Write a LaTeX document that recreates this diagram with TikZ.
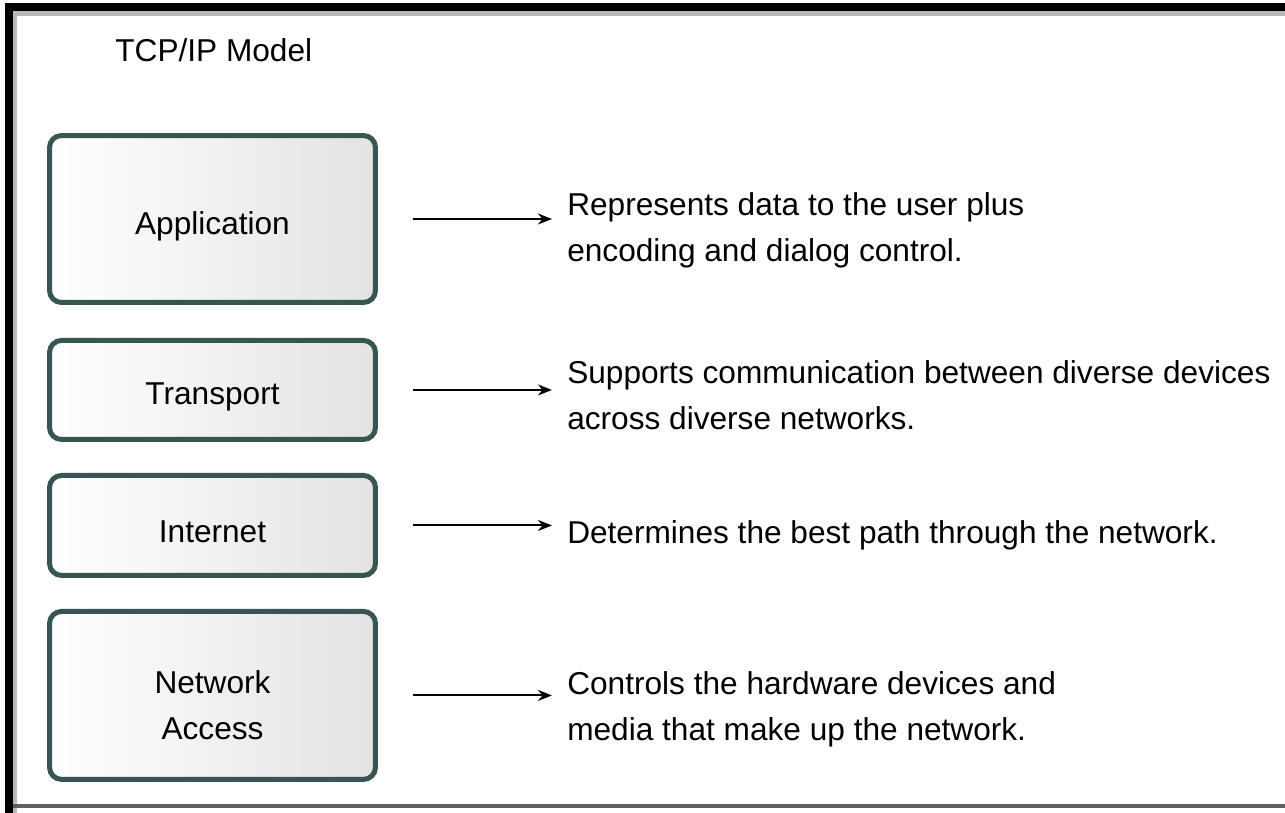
\documentclass[tikz,border=0pt]{standalone}
\usepackage{fontspec}
\setmainfont{Liberation Sans}
\usepackage{tikz}
\usetikzlibrary{arrows.meta, positioning}
\definecolor{layeredge}{RGB}{55,85,82}
\definecolor{framegray}{RGB}{95,95,95}

\begin{document}
\begin{tikzpicture}[x=0.02cm, y=-0.02cm, font=\fontsize{18}{26}\selectfont,
  layer/.style={draw=layeredge, line width=0.1cm, rounded corners=0.24cm, left color=white, right color=black!11, minimum width=6.52cm},
  desc/.style={inner sep=0pt, align=left, anchor=west},
  arr/.style={-{Stealth[length=0.28cm, width=0.22cm]}, line width=0.04cm, shorten <=0.7cm, shorten >=0.3cm}]
\clip (0,0) rectangle (1285,812);
\fill[white] (0,0) rectangle (1285,812);
% frame
\draw[line width=0.1cm, gray!55] (15,830) -- (15,13) -- (1300,13);
\draw[line width=0.16cm, black] (9,830) -- (9,7) -- (1300,7);
\draw[line width=0.08cm, framegray] (13,806) -- (1300,806);
\node[inner sep=0pt, anchor=west] (title) at (115,50) {TCP/IP Model};
% layers
\node[layer, minimum height=3.34cm, label={[yshift=-0.15cm]center:Application}] (app) at (212.5,219) {};
\node[layer, minimum height=1.98cm, below=0.66cm of app, label={[yshift=-0.13cm]center:Transport}] (trans) {};
\node[layer, minimum height=2.0cm, below=0.62cm of trans, label={[yshift=-0.13cm]center:Internet}] (inet) {};
\node[layer, minimum height=3.36cm, below=0.62cm of inet, label={[align=center, yshift=-0.2cm]center:{Network\\Access}}] (netacc) {};
% descriptions
\node[desc, right=3.78cm of app, yshift=-0.22cm] (appdesc) {Represents data to the user plus\\encoding and dialog control.};
\node[desc, right=3.78cm of trans, yshift=-0.1cm] (transdesc) {Supports communication between diverse devices\\across diverse networks.};
\node[desc, right=3.78cm of inet, yshift=-0.2cm] (inetdesc) {Determines the best path through the network.};
\node[desc, right=3.78cm of netacc, yshift=-0.28cm] (netaccdesc) {Controls the hardware devices and\\media that make up the network.};
\draw[arr] (app.east) -- (app.east -| appdesc.west);
\draw[arr] (trans.east) -- (trans.east -| transdesc.west);
\draw[arr] (inet.east) -- (inet.east -| inetdesc.west);
\draw[arr] (netacc.east) -- (netacc.east -| netaccdesc.west);
\end{tikzpicture}
\end{document}
